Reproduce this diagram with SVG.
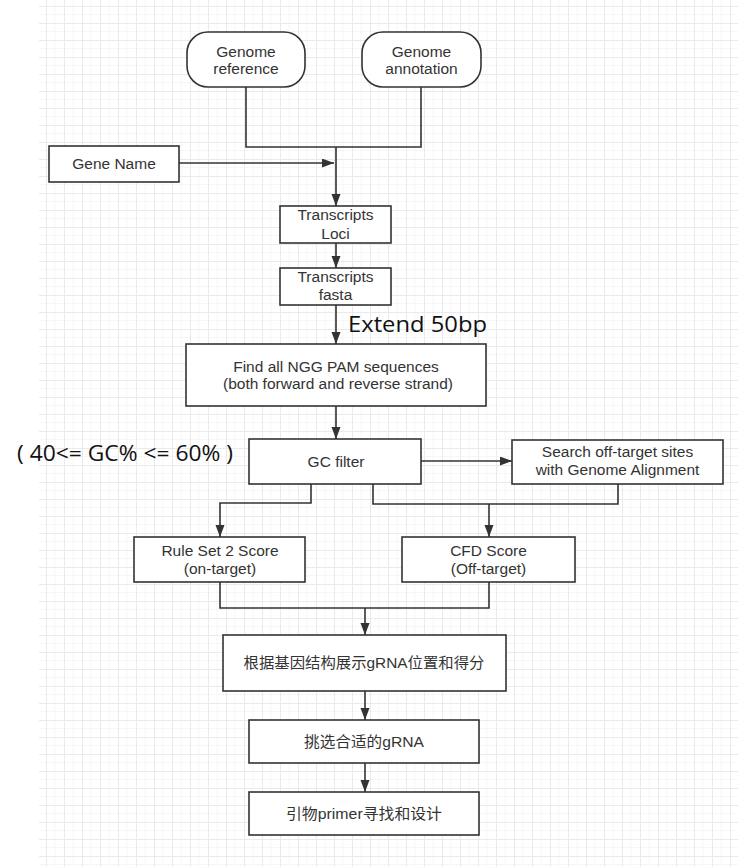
<svg xmlns="http://www.w3.org/2000/svg" width="738" height="867" viewBox="0 0 738 867">
<style>
.box{fill:#ffffff;stroke:#333333;stroke-width:1.6}
.t{font-family:"Liberation Sans",Arial,sans-serif;font-size:15.5px;fill:#333333;text-anchor:middle}
.cjk{font-family:"Liberation Sans","Noto Sans CJK SC",sans-serif;font-size:15px;fill:#333333;text-anchor:middle}
.note{font-family:"Open Sans","Liberation Sans",sans-serif;font-size:21px;fill:#111111}
.c{fill:none;stroke:#333333;stroke-width:1.6}
.a{marker-end:url(#arr)}
</style>
<defs>
<pattern id="grid" patternUnits="userSpaceOnUse" x="64" y="40" width="18" height="17">
<path d="M0 8.5 H18 M9 0 V17" stroke="#f6f6f6" stroke-width="1" fill="none"/>
<path d="M0 0.5 H18 M0.5 0 V17" stroke="#eaeaea" stroke-width="1" fill="none"/>
</pattern>
<marker id="arr" markerUnits="userSpaceOnUse" markerWidth="12" markerHeight="10" refX="12" refY="4.5" orient="auto">
<path d="M0,0 L12,4.5 L0,9 z" fill="#333333"/>
</marker>
</defs>
<rect x="0" y="0" width="738" height="867" fill="#ffffff"/>
<rect x="39" y="0" width="699" height="867" fill="url(#grid)"/>

<g id="connectors">
<polyline class="c" points="246,87 246,147 421,147 421,87"/>
<line class="c a" x1="336" y1="147" x2="336" y2="206"/>
<line class="c a" x1="179" y1="163" x2="334" y2="163"/>
<line class="c a" x1="336" y1="243" x2="336" y2="268"/>
<line class="c a" x1="336" y1="305" x2="336" y2="344"/>
<line class="c a" x1="336" y1="406" x2="336" y2="439"/>
<line class="c a" x1="421" y1="461" x2="512" y2="461"/>
<polyline class="c a" points="311,484 311,503 220,503 220,537"/>
<polyline class="c" points="373,484 373,504 618,504 618,484"/>
<line class="c a" x1="489" y1="504" x2="489" y2="537"/>
<polyline class="c" points="220,582 220,608 489,608 489,582"/>
<line class="c a" x1="365" y1="608" x2="365" y2="635"/>
<line class="c a" x1="365" y1="691" x2="365" y2="720"/>
<line class="c a" x1="365" y1="763" x2="365" y2="792"/>
</g>

<g id="genome-reference">
<rect class="box" x="187" y="32" width="118" height="55" rx="21" ry="21"/>
<text class="t" x="246" y="57">Genome</text>
<text class="t" x="246" y="74">reference</text>
</g>
<g id="genome-annotation">
<rect class="box" x="362" y="32" width="119" height="55" rx="21" ry="21"/>
<text class="t" x="421.5" y="57">Genome</text>
<text class="t" x="421.5" y="74">annotation</text>
</g>
<g id="gene-name">
<rect class="box" x="49" y="146" width="130" height="36"/>
<text class="t" x="114" y="169">Gene Name</text>
</g>
<g id="transcripts-loci">
<rect class="box" x="280" y="206" width="111" height="37"/>
<text class="t" x="335.5" y="220">Transcripts</text>
<text class="t" x="335.5" y="239">Loci</text>
</g>
<g id="transcripts-fasta">
<rect class="box" x="280" y="268" width="111" height="37"/>
<text class="t" x="335.5" y="282">Transcripts</text>
<text class="t" x="335.5" y="300">fasta</text>
</g>
<g id="extend-label">
<text class="note" x="348" y="332" textLength="139" lengthAdjust="spacingAndGlyphs">Extend 50bp</text>
</g>
<g id="find-pam">
<rect class="box" x="186" y="344" width="300" height="62"/>
<text class="t" x="336" y="372">Find all NGG PAM sequences</text>
<text class="t" x="338" y="389">(both forward and reverse strand)</text>
</g>
<g id="gc-label">
<text class="note" x="17" y="461" font-size="20" textLength="216" lengthAdjust="spacingAndGlyphs">( 40&lt;= GC% &lt;= 60% )</text>
</g>
<g id="gc-filter">
<rect class="box" x="249" y="439" width="172" height="45"/>
<text class="t" x="336" y="467">GC filter</text>
</g>
<g id="search-off-target">
<rect class="box" x="512" y="440" width="211" height="44"/>
<text class="t" x="617.5" y="457">Search off-target sites</text>
<text class="t" x="617.5" y="475">with Genome Alignment</text>
</g>
<g id="rule-set-2">
<rect class="box" x="134" y="537" width="171" height="45"/>
<text class="t" x="220" y="556">Rule Set 2 Score</text>
<text class="t" x="220" y="574">(on-target)</text>
</g>
<g id="cfd-score">
<rect class="box" x="402" y="537" width="173" height="45"/>
<text class="t" x="488.5" y="556">CFD Score</text>
<text class="t" x="488.5" y="574">(Off-target)</text>
</g>
<g id="show-grna">
<rect class="box" x="223" y="635" width="283" height="56"/>
<text class="cjk" x="364" y="668" textLength="241" lengthAdjust="spacingAndGlyphs">根据基因结构展示gRNA位置和得分</text>
</g>
<g id="pick-grna">
<rect class="box" x="249" y="720" width="230" height="43"/>
<text class="cjk" x="364" y="747" textLength="120" lengthAdjust="spacingAndGlyphs">挑选合适的gRNA</text>
</g>
<g id="primer-design">
<rect class="box" x="249" y="792" width="230" height="43"/>
<text class="cjk" x="364" y="819" textLength="156" lengthAdjust="spacingAndGlyphs">引物primer寻找和设计</text>
</g>
</svg>
